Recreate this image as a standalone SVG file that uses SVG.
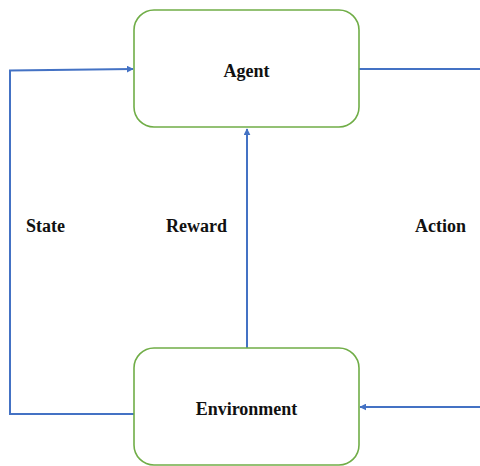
<svg xmlns="http://www.w3.org/2000/svg" width="480" height="466" viewBox="0 0 480 466">
<style>
.node{fill:#fff;stroke:#70AD47;stroke-width:1.6}
.lbl{font-family:"Liberation Serif","Times New Roman",serif;font-weight:bold;font-size:18px;fill:#111}
.c{fill:none;stroke:#4472C4;stroke-width:2}
</style>
<defs>
<marker id="ah" viewBox="0 0 10 10" refX="9" refY="5" markerWidth="7" markerHeight="7" markerUnits="userSpaceOnUse" orient="auto">
<path d="M0,0 L10,5 L0,10 Z" fill="#4472C4"/>
</marker>
</defs>
<rect width="480" height="466" fill="#fff"/>
<g id="connectors">
<path class="c" d="M134,414 H10 V70.5 L133,69" marker-end="url(#ah)"/>
<path class="c" d="M247,348 V129" marker-end="url(#ah)"/>
<path class="c" d="M359,69 H480"/>
<path class="c" d="M480,407 H360" marker-end="url(#ah)"/>
</g>
<g id="agent">
<rect class="node" x="134" y="10" width="225" height="117" rx="20"/>
<text class="lbl" x="246.5" y="77" text-anchor="middle">Agent</text>
</g>
<g id="environment">
<rect class="node" x="134" y="348" width="225" height="117" rx="20"/>
<text class="lbl" x="246.5" y="415" text-anchor="middle">Environment</text>
</g>
<text class="lbl" x="26" y="232">State</text>
<text class="lbl" x="166" y="232">Reward</text>
<text class="lbl" x="415" y="232">Action</text>
</svg>
